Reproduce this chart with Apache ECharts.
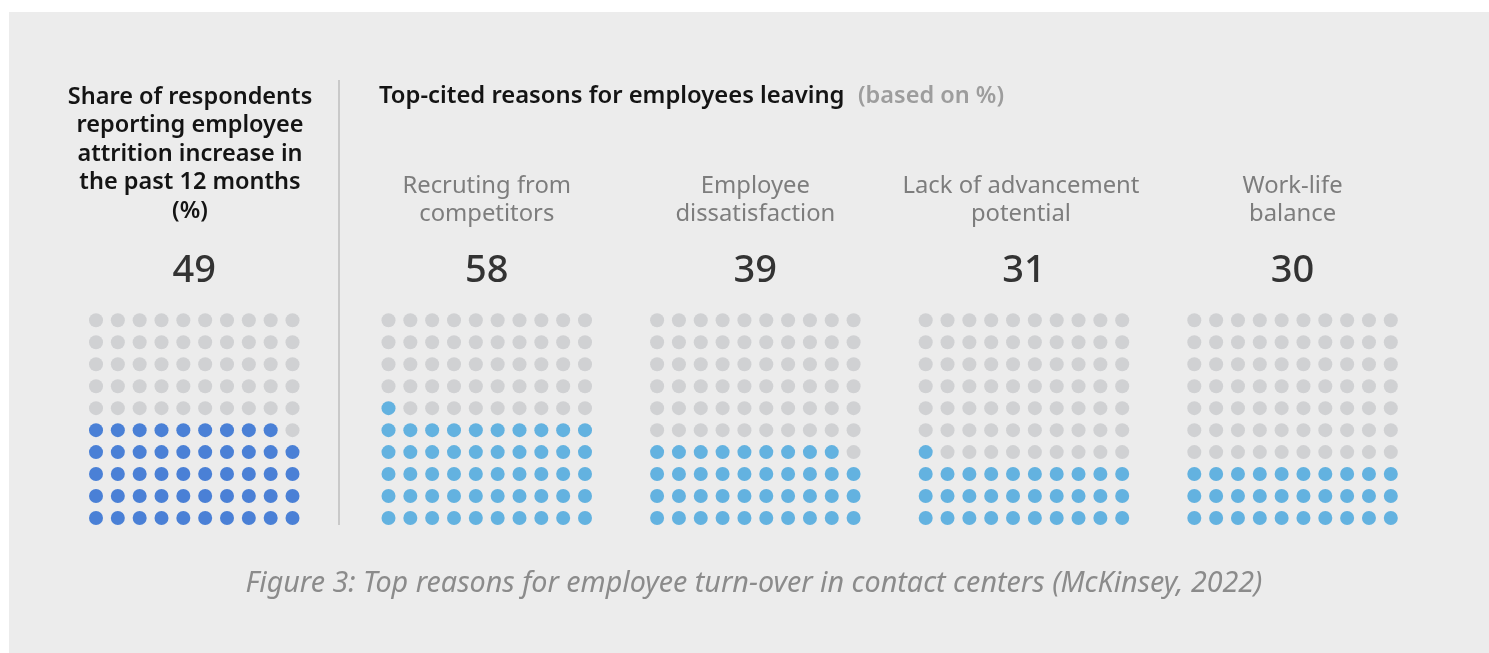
<!DOCTYPE html>
<html>
<head>
<meta charset="utf-8">
<script src="https://cdn.jsdelivr.net/npm/echarts@6/dist/echarts.min.js"></script>
<style>
html,body{margin:0;padding:0;background:#ffffff;}
#chart{width:1489px;height:653px;}
</style>
</head>
<body>
<div id="chart"></div>
<script>
// ---- data ----
const leftTitle = ['Share of respondents', 'reporting employee', 'attrition increase in', 'the past 12 months', '(%)'];
const rightTitle = 'Top-cited reasons for employees leaving';
const rightSubtitle = '(based on %)';
const categories = ['', 'Recruting from\ncompetitors', 'Employee\ndissatisfaction', 'Lack of advancement\npotential', 'Work-life\nbalance'];
const labelValues = [49, 58, 39, 31, 30];
const filledDots = [49, 51, 39, 31, 30];
const caption = 'Figure 3: Top reasons for employee turn-over in contact centers (McKinsey, 2022)';

// ---- layout / style ----
const FONT = '"Noto Sans", sans-serif';
const gridLefts = [96, 388.5, 657.1, 925.7, 1194.3];
const gridW = 196.5, gridTop = 320.3, gridH = 197.7;
const fillColors = ['#4a80d6', '#63b2e0', '#63b2e0', '#63b2e0', '#63b2e0'];
const emptyColor = '#d0d1d3';

const grids = [], xAxes = [], yAxes = [], series = [], graphics = [];

graphics.push({type: 'rect', left: 9, top: 12, shape: {width: 1480, height: 641}, style: {fill: '#ececec'}, z: -10});

for (let p = 0; p < 5; p++) {
  grids.push({left: gridLefts[p], top: gridTop, width: gridW, height: gridH});
  xAxes.push({type: 'value', gridIndex: p, min: 0, max: 9, show: false});
  yAxes.push({type: 'value', gridIndex: p, min: 0, max: 9, show: false});
  const filled = [], empty = [];
  for (let k = 0; k < 100; k++) {
    const pt = [k % 10, Math.floor(k / 10)];
    (k < filledDots[p] ? filled : empty).push(pt);
  }
  series.push({type: 'scatter', xAxisIndex: p, yAxisIndex: p, data: filled, symbolSize: 14,
    itemStyle: {color: fillColors[p], opacity: 1}, silent: true, animation: false});
  series.push({type: 'scatter', xAxisIndex: p, yAxisIndex: p, data: empty, symbolSize: 14,
    itemStyle: {color: emptyColor, opacity: 1}, silent: true, animation: false});
  const cx = gridLefts[p] + gridW / 2;
  graphics.push({type: 'text', x: cx, y: 271, style: {text: String(labelValues[p]), font: '500 38px ' + FONT,
    fill: '#333333', align: 'center', verticalAlign: 'middle'}});
  if (categories[p]) {
    graphics.push({type: 'text', x: cx - (p === 3 ? 3 : 0), y: 200, style: {text: categories[p], font: '400 23.8px ' + FONT,
      fill: '#7d7d7d', align: 'center', verticalAlign: 'middle', lineHeight: 28}});
  }
}

graphics.push({type: 'text', x: 190, y: 154, style: {text: leftTitle.join('\n'), font: '600 23.5px ' + FONT,
  fill: '#141414', align: 'center', verticalAlign: 'middle', lineHeight: 28.5}});
graphics.push({type: 'line', shape: {x1: 339, y1: 80, x2: 339, y2: 525}, style: {stroke: '#c9c9c9', lineWidth: 2}});
graphics.push({type: 'text', x: 379, y: 96, style: {text: rightTitle, font: '600 23.8px ' + FONT,
  fill: '#141414', align: 'left', verticalAlign: 'middle'}});
graphics.push({type: 'text', x: 858, y: 96, style: {text: rightSubtitle, font: '600 23.5px ' + FONT,
  fill: '#9d9d9d', align: 'left', verticalAlign: 'middle'}});
graphics.push({type: 'text', x: 754, y: 584, style: {text: caption, font: 'italic 400 28.7px ' + FONT,
  fill: '#8b8b8b', align: 'center', verticalAlign: 'middle'}});

const chart = echarts.init(document.getElementById('chart'), null, {renderer: 'canvas'});
chart.setOption({
  backgroundColor: '#ffffff',
  animation: false,
  grid: grids, xAxis: xAxes, yAxis: yAxes, series: series,
  graphic: graphics
});
</script>
</body>
</html>
